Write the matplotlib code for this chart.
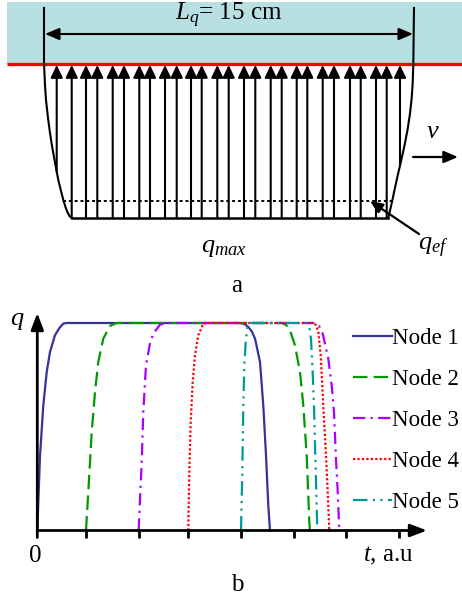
import numpy as np
import matplotlib
matplotlib.use("Agg")
import matplotlib.pyplot as plt
from matplotlib.patches import Rectangle

plt.rcParams["font.family"] = ["Liberation Serif", "DejaVu Serif"]
plt.rcParams["mathtext.fontset"] = "custom"
plt.rcParams["mathtext.rm"] = "Liberation Serif"
plt.rcParams["mathtext.it"] = "Liberation Serif:italic"

# ============================================================
# panel a: scheme (drawing units = pixels of the original figure)
# ============================================================
band_x = [7, 462]
band_y = [2, 63.5]
dim_y = 34
arrow_tip = 65
base_y = 218
ef_y = 201
ef_x = [63, 393]
arrow_x = [56.7, 71.7, 86, 97.3, 112.7, 124, 139.3, 150, 165, 176.7, 191, 201.7,
           217.3, 228.7, 244, 255.3, 270.7, 281.7, 296.7, 307.3, 322.7, 334,
           350, 360.7, 376, 386.7, 400]
left_x = [44, 44, 45, 46, 48, 50, 52, 54, 56, 58.3, 61, 63.3, 65.5, 67.3, 69.5, 71.7]
left_y = [8, 63.3, 85, 100, 118, 133, 146, 157, 168, 180, 191, 200, 207, 212, 216, 218]
right_x = [414, 413.3, 412.6, 411.5, 409.8, 407.5, 404.6, 401.3, 397.8, 394.5,
           392.4, 390.6, 389.2, 388.3]
right_y = [8, 65, 85, 100, 115, 130, 145, 160, 175, 190, 200, 208, 214, 218]

# ============================================================
# panel b: q(t) for the nodes (t in a.u., q normalised)
# ============================================================
node1_t = [0, 0.052, 0.115, 0.18, 0.243, 0.338, 0.42, 0.497, 0.56,
           3.876, 3.96, 4.034, 4.10, 4.163, 4.258, 4.321, 4.373, 4.417, 4.449]
node1_q = [0, 0.362, 0.603, 0.764, 0.86, 0.941, 0.975, 0.997, 1.0,
           1.0, 0.995, 0.981, 0.96, 0.925, 0.812, 0.603, 0.362, 0.121, 0]
node2_t = [0.931, 0.975, 1.040, 1.103, 1.166, 1.262, 1.39, 1.518,
           4.679, 4.76, 4.832, 4.927, 5.023, 5.086, 5.151, 5.201, 5.214]
node2_q = [0, 0.185, 0.474, 0.667, 0.812, 0.925, 0.986, 1.0,
           1.0, 0.99, 0.965, 0.892, 0.764, 0.603, 0.362, 0.04, 0]
node3_t = [1.937, 1.996, 2.027, 2.078, 2.155, 2.218, 2.346, 2.442,
           5.310, 5.39, 5.457, 5.564, 5.629, 5.673, 5.711, 5.744, 5.774]
node3_q = [0, 0.329, 0.571, 0.796, 0.901, 0.949, 0.992, 1.0,
           1.0, 0.985, 0.949, 0.828, 0.700, 0.571, 0.346, 0.185, 0]
node4_t = [2.887, 2.906, 2.933, 2.971, 3.015, 3.078, 3.174, 3.226,
           5.272, 5.33, 5.373, 5.419, 5.468, 5.520, 5.564, 5.583]
node4_q = [0, 0.281, 0.522, 0.715, 0.844, 0.941, 0.997, 1.0,
           1.0, 0.99, 0.957, 0.844, 0.603, 0.362, 0.121, 0]
node5_t = [3.895, 3.920, 3.939, 3.958, 3.985, 4.015, 4.054,
           5.157, 5.20, 5.233, 5.265, 5.290, 5.315, 5.342, 5.354]
node5_q = [0, 0.281, 0.603, 0.796, 0.908, 0.981, 1.0,
           1.0, 0.98, 0.925, 0.764, 0.603, 0.362, 0.121, 0]
node_labels = ["Node 1", "Node 2", "Node 3", "Node 4", "Node 5"]
tick_t = [0.94, 1.94, 2.89, 3.89, 4.9, 5.91, 6.92]

fig = plt.figure(figsize=(4.62, 6.0), dpi=100)

# ---- panel a ----
ax = fig.add_axes([0, 0.5, 1, 0.5])
ax.set_xlim(0, 462)
ax.set_ylim(300, 0)
ax.axis("off")

ax.add_patch(Rectangle((band_x[0], band_y[0]), band_x[1] - band_x[0],
                       band_y[1] - band_y[0], color="#b8dfe1", lw=0, zorder=0))
ax.plot(band_x, [band_y[1], band_y[1]], color="#ff0000", lw=2.4, zorder=1,
        solid_capstyle="butt")

ax.plot(left_x, left_y, color="black", lw=1.5, zorder=3)
ax.plot(right_x, right_y, color="black", lw=1.5, zorder=3)
ax.plot([left_x[-1], right_x[-1]], [base_y, base_y], color="black", lw=1.8, zorder=3)
ax.plot(ef_x, [ef_y, ef_y], color="black", lw=1.4, dashes=(1.5, 1.5), zorder=3)

rx = right_x[::-1]
ry = right_y[::-1]
for x in arrow_x:
    if x < left_x[-1]:
        bottom = np.interp(x, left_x[1:], left_y[1:])
    elif x > right_x[-1]:
        bottom = np.interp(x, rx[:-1], ry[:-1])
    else:
        bottom = base_y
    ax.annotate("", xy=(x, arrow_tip), xytext=(x, bottom),
                arrowprops=dict(arrowstyle="-|>,head_length=0.75,head_width=0.36",
                                color="black", lw=1.5, mutation_scale=10,
                                shrinkA=0, shrinkB=0))

# dimension arrow L_q
ax.annotate("", xy=(left_x[0] + 1, dim_y), xytext=(right_x[0] - 1, dim_y),
            arrowprops=dict(arrowstyle="<|-|>,head_length=0.85,head_width=0.36",
                            color="black", lw=1.5, mutation_scale=10,
                            shrinkA=0, shrinkB=0))
ax.text(229, 15, r"$L_q$= 15 cm", fontsize=18, ha="center", va="center")

# v arrow
ax.annotate("", xy=(458, 157), xytext=(413, 157),
            arrowprops=dict(arrowstyle="-|>,head_length=0.85,head_width=0.36",
                            color="black", lw=1.6, mutation_scale=10,
                            shrinkA=0, shrinkB=0))
ax.text(433, 132, r"$v$", fontsize=19, ha="center", va="center")

# q_ef pointer
ax.annotate("", xy=(370, 201), xytext=(419, 234),
            arrowprops=dict(arrowstyle="-|>,head_length=0.75,head_width=0.32",
                            color="black", lw=1.6, mutation_scale=10,
                            shrinkA=0, shrinkB=0))
ax.text(433, 248, r"$q_{ef}$", fontsize=19, ha="center", va="center")
ax.text(224, 248, r"$q_{max}$", fontsize=19, ha="center", va="center")
ax.text(237, 286, "a", fontsize=18, ha="center", va="center")

# ---- panel b ----
t0_px, t_px = 37.3, 52.3
q0_px, q_px = 530.5, 207.5
bx = fig.add_axes([0, 0, 1, 0.5])
bx.set_xlim(-t0_px / t_px, (462 - t0_px) / t_px)
bx.set_ylim(-(600 - q0_px) / q_px, (q0_px - 300) / q_px)
bx.axis("off")

lw = 1.6
styles = [
    dict(color="#333399", linestyle="-"),
    dict(color="#009900", dashes=(6.5, 2.8)),
    dict(color="#aa00ff", dashes=(5.5, 2.4, 1, 2.4)),
    dict(color="#ff0000", dashes=(1, 1)),
    dict(color="#009999", dashes=(6.5, 2.4, 1, 2.4, 1, 2.4)),
]
series = [(node1_t, node1_q), (node2_t, node2_q), (node3_t, node3_q),
          (node4_t, node4_q), (node5_t, node5_q)]
handles = []
for (t, q), st, lab in zip(series, styles, node_labels):
    h, = bx.plot(t, q, lw=lw, label=lab, **st)
    handles.append(h)

tick_len = 7 / q_px
q_tip = (q0_px - 313) / q_px
t_tip = (427 - t0_px) / t_px
bx.annotate("", xy=(0, q_tip), xytext=(0, -tick_len),
            arrowprops=dict(arrowstyle="-|>,head_length=1.0,head_width=0.38",
                            color="black", lw=2, mutation_scale=10,
                            shrinkA=0, shrinkB=0))
bx.annotate("", xy=(t_tip, 0), xytext=(0, 0),
            arrowprops=dict(arrowstyle="-|>,head_length=1.0,head_width=0.38",
                            color="black", lw=2, mutation_scale=10,
                            shrinkA=0, shrinkB=0))
bx.vlines(tick_t, -tick_len, 0, color="black", lw=2)

bx.text(-0.38, (q0_px - 321) / q_px, r"$q$", fontsize=19, ha="center", va="center")
bx.text(-0.04, -(556 - q0_px) / q_px, "0", fontsize=18, ha="center", va="center")
bx.text((388.5 - t0_px) / t_px, -(556 - q0_px) / q_px, r"$t$, a.u", fontsize=18,
        ha="center", va="center")
bx.text((237 - t0_px) / t_px, -(585 - q0_px) / q_px, "b", fontsize=18,
        ha="center", va="center")

bx.legend(handles=handles, loc="upper left",
          bbox_to_anchor=(352.7 / 462, 1 - 327.5 / 600), bbox_transform=fig.transFigure,
          frameon=False, fontsize=16.5, handlelength=1.7, handletextpad=0.0,
          labelspacing=0.88, borderpad=0, borderaxespad=0)

fig.savefig("out.png", dpi=100)
